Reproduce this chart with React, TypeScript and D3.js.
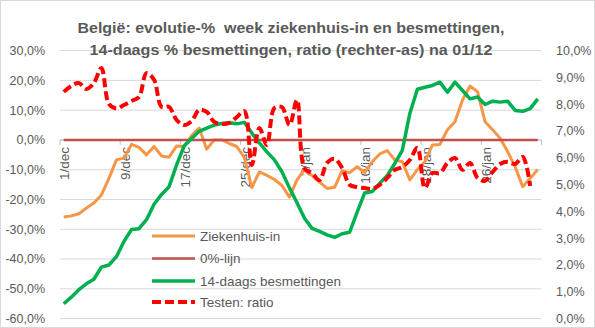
import React from 'react';
import * as d3 from 'd3';

const categories = [
  '1/12','2/12','3/12','4/12','5/12','6/12','7/12','8/12','9/12','10/12','11/12','12/12','13/12','14/12','15/12','16/12',
  '17/12','18/12','19/12','20/12','21/12','22/12','23/12','24/12','25/12','26/12','27/12','28/12','29/12','30/12','31/12',
  '1/1','2/1','3/1','4/1','5/1','6/1','7/1','8/1','9/1','10/1','11/1','12/1','13/1','14/1','15/1','16/1',
  '17/1','18/1','19/1','20/1','21/1','22/1','23/1','24/1','25/1','26/1','27/1','28/1','29/1','30/1','31/1',
  '1/2','2/2'
];

const tickLabels = ['1/dec', '9/dec', '17/dec', '25/dec', '2/jan', '10/jan', '18/jan', '26/jan'];

// left axis, %
const ziekenhuisIn = [
  -25.9, -25.5, -24.8, -22.9, -21.2, -18.5, -12.9, -6.7, -6.1, -1.5, -2.5, -5.0, -2.2, -5.4, -5.8, -2.0,
  -2.2, 1.5, 4.0, -3.1, 0.0, 0.0, -1.2, -2.2, -5.9, -16.0, -10.7, -11.9, -13.3, -15.3, -19.2,
  -13.4, -10.0, -11.9, -14.2, -16.3, -15.9, -10.3, -11.0, -9.0, -11.0, -7.3, -4.7, -3.6, -6.7, -7.3, -13.4,
  -10.0, -7.3, -1.7, -1.5, 3.4, 6.1, 13.4, 18.1, 16.2, 6.1, 3.4, 0.6, -3.9, -9.0, -15.7, -12.9,
  -9.9
];

const nulLijn = [
  0, 0, 0, 0, 0, 0, 0, 0, 0, 0, 0, 0, 0, 0, 0, 0,
  0, 0, 0, 0, 0, 0, 0, 0, 0, 0, 0, 0, 0, 0, 0,
  0, 0, 0, 0, 0, 0, 0, 0, 0, 0, 0, 0, 0, 0, 0, 0,
  0, 0, 0, 0, 0, 0, 0, 0, 0, 0, 0, 0, 0, 0, 0, 0,
  0
];

const besmettingen14 = [
  -55.0, -52.8, -50.3, -48.3, -46.8, -42.7, -42.0, -39.2, -34.1, -30.1, -29.8, -26.8, -21.6, -18.3, -15.7, -8.4,
  -2.0, 0.5, 2.9, 4.0, 5.0, 5.5, 5.8, 5.4, 5.9, 2.3, -1.0, -4.0, -6.7, -10.7, -16.1,
  -21.1, -26.3, -29.7, -30.7, -31.9, -32.7, -31.5, -31.0, -24.2, -17.8, -17.3, -14.6, -11.9, -7.9, -3.5, 8.9,
  17.0, 17.7, 18.3, 19.4, 16.0, 19.4, 16.6, 13.8, 14.4, 11.9, 13.0, 12.7, 13.0, 9.9, 9.6, 10.5,
  13.8
];

// right axis, %
const testenRatio: (number | null)[] = [
  8.46, 8.68, 8.79, 8.57, 8.79, 9.35, 8.01, 7.84, 7.97, 8.12, 8.27, 9.16, 8.91, 7.90, 7.90, 7.41,
  7.22, 7.37, 7.79, 7.71, 7.34, 7.26, 7.30, 7.52, 7.74, 5.73, 7.11, 6.48, 7.86, 7.89, 7.22,
  8.16, 5.60, 5.43, 5.17, 5.81, 5.96, 5.62, 4.99, 4.91, 4.87, 4.84, 4.99, 5.25, 5.55, 5.66, 5.92,
  6.37, 4.87, 5.43, 5.43, 5.81, 5.99, 5.55, 5.81, 5.25, 5.14, 5.47, 5.77, 5.85, 5.77, 6.03, 4.95,
  null
];

const W = 595;
const H = 328;
const PL = 60;
const PR = 541.5;
const PT = 50.6;
const PB = 318.6;

const TEXT = '#595959';
const GRID = '#D9D9D9';
const FONT = "'Liberation Sans', Arial, sans-serif";

const locale = d3.formatLocale({ decimal: ',', thousands: '.', grouping: [3], currency: ['€', ''], minus: '-' });
const fmt1 = locale.format('.1f');
const pct = (v: number) => `${fmt1(v)}%`;

export default function App() {
  const x = d3.scaleBand<string>().domain(categories).range([PL, PR]).padding(0);
  const bw = x.bandwidth();
  const cx = (i: number) => (x(categories[i]) as number) + bw / 2;
  const yL = d3.scaleLinear().domain([-60, 30]).range([PB, PT]);
  const yR = d3.scaleLinear().domain([0, 10]).range([PB, PT]);

  const lineL = d3
    .line<number>()
    .x((_, i) => cx(i))
    .y((d) => yL(d));
  const lineR = d3
    .line<number | null>()
    .defined((d) => d != null)
    .x((_, i) => cx(i))
    .y((d) => yR(d as number))
    .curve(d3.curveCatmullRom.alpha(0.5));

  const leftTicks = yL.ticks(9);
  const rightTicks = yR.ticks(10);
  const y0 = yL(0);

  const boundaryIdx = categories.map((_, i) => i).filter((i) => i % 8 === 0);
  const boundaryX = [...boundaryIdx.map((i) => x(categories[i]) as number), PR];

  const legend = [
    { label: 'Ziekenhuis-in', color: '#F79646', width: 3, dash: undefined as string | undefined },
    { label: '0%-lijn', color: '#C0504D', width: 2.5, dash: undefined },
    { label: '14-daags besmettingen', color: '#00B050', width: 3.5, dash: undefined },
    { label: 'Testen: ratio', color: '#FF0000', width: 4, dash: '9,4' },
  ];
  const legendY = [236, 258.5, 281, 302];

  return (
    <svg
      width={W}
      height={H}
      style={{ position: 'absolute', left: 0, top: 0, background: '#fff' }}
      fontFamily={FONT}
    >
      <rect x={0.5} y={0.5} width={W - 1} height={H - 1} fill="#fff" stroke={GRID} />

      {/* gridlines */}
      {leftTicks.map((t) => (
        <line key={`g${t}`} x1={PL} x2={PR} y1={yL(t)} y2={yL(t)} stroke={GRID} strokeWidth={1} />
      ))}

      {/* left axis labels */}
      {leftTicks.map((t) => (
        <text key={`l${t}`} x={45} y={yL(t)} dy="0.35em" textAnchor="end" fontSize={12.5} fill={TEXT}>
          {pct(t)}
        </text>
      ))}

      {/* right axis labels */}
      {rightTicks.map((t) => (
        <text key={`r${t}`} x={556} y={yR(t)} dy="0.35em" textAnchor="start" fontSize={12.5} fill={TEXT}>
          {pct(t)}
        </text>
      ))}

      {/* category axis */}
      <line x1={PL} x2={PR} y1={y0} y2={y0} stroke="#BFBFBF" />
      {boundaryX.map((bx, k) => (
        <line key={`t${k}`} x1={bx} x2={bx} y1={y0} y2={y0 + 5} stroke="#BFBFBF" />
      ))}
      {boundaryIdx.map((i, k) => (
        <text
          key={`c${i}`}
          transform={`translate(${cx(i) + 1},${y0 + 7}) rotate(-90)`}
          dy="0.35em"
          textAnchor="end"
          fontSize={13.5}
          fill={TEXT}
        >
          {tickLabels[k]}
        </text>
      ))}

      {/* series */}
      <path d={lineL(ziekenhuisIn) || ''} fill="none" stroke="#F79646" strokeWidth={3} strokeLinejoin="round" />
      <path d={lineL(nulLijn) || ''} fill="none" stroke="#C0504D" strokeWidth={2.5} />
      <path d={lineL(besmettingen14) || ''} fill="none" stroke="#00B050" strokeWidth={3.5} strokeLinejoin="round" />
      <path
        d={lineR(testenRatio) || ''}
        fill="none"
        stroke="#FF0000"
        strokeWidth={4}
        strokeDasharray="9,4"
        strokeLinejoin="round"
      />

      {/* title */}
      <text x={291} y={33} textAnchor="middle" fontSize={15} fontWeight="bold" fill={TEXT} textLength={427} lengthAdjust="spacingAndGlyphs" style={{ whiteSpace: 'pre' }}>
        {'België: evolutie-%  week ziekenhuis-in en besmettingen,'}
      </text>
      <text x={291} y={55} textAnchor="middle" fontSize={15} fontWeight="bold" fill={TEXT} textLength={403} lengthAdjust="spacingAndGlyphs">
        14-daags % besmettingen, ratio (rechter-as) na 01/12
      </text>

      {/* legend */}
      {legend.map((e, i) => (
        <g key={e.label}>
          <line
            x1={152}
            x2={195}
            y1={legendY[i]}
            y2={legendY[i]}
            stroke={e.color}
            strokeWidth={e.width}
            strokeDasharray={e.dash}
          />
          <text x={200} y={legendY[i]} dy="0.35em" fontSize={13.5} fill={TEXT}>
            {e.label}
          </text>
        </g>
      ))}
    </svg>
  );
}
